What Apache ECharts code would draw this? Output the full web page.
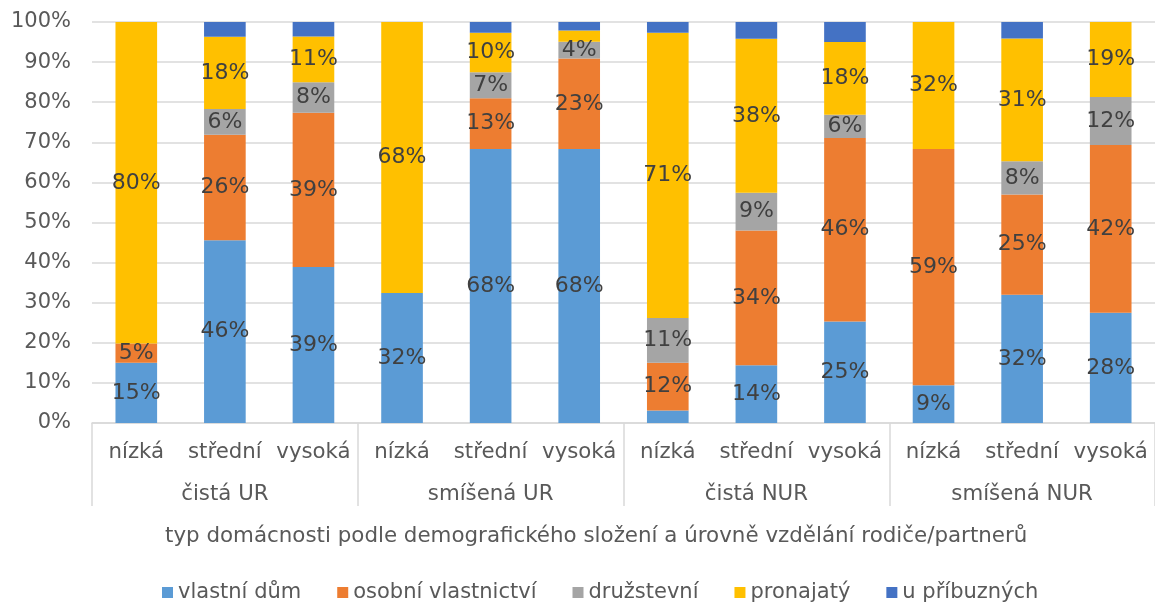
<!DOCTYPE html>
<html>
<head>
<meta charset="utf-8">
<script src="https://cdn.jsdelivr.net/npm/echarts@6/dist/echarts.min.js"></script>
<style>
  html, body { margin: 0; padding: 0; background: #fff; }
  #chart { width: 1155px; height: 602px; }
</style>
</head>
<body>
<div id="chart"></div>
<script>
// data (share in %)
var levels = ['nízká', 'střední', 'vysoká', 'nízká', 'střední', 'vysoká', 'nízká', 'střední', 'vysoká', 'nízká', 'střední', 'vysoká'];
var groups = ['čistá UR', 'smíšená UR', 'čistá NUR', 'smíšená NUR'];
var seriesNames = ['vlastní dům', 'osobní vlastnictví', 'družstevní', 'pronajatý', 'u příbuzných'];
var vlastniDum = [15.0, 45.6, 38.9, 32.4, 68.3, 68.3, 3.1, 14.4, 25.3, 9.4, 32.0, 27.5];
var osobniVl = [4.8, 26.3, 38.5, 0, 12.7, 22.6, 11.9, 33.6, 45.8, 58.9, 25.0, 41.8];
var druzstevni = [0, 6.4, 7.6, 0, 6.5, 4.2, 11.2, 9.4, 5.8, 0, 8.3, 12.0];
var pronajaty = [80.2, 18.0, 11.4, 67.6, 9.8, 2.8, 71.1, 38.4, 18.1, 31.7, 30.6, 18.7];
var uPribuznych = [0, 3.7, 3.6, 0, 2.7, 2.1, 2.7, 4.2, 5.0, 0, 4.1, 0];
var yTicks = [0, 10, 20, 30, 40, 50, 60, 70, 80, 90, 100];

var colors = ['#5B9BD5', '#ED7D31', '#A5A5A5', '#FFC000', '#4472C4'];
var allData = [vlastniDum, osobniVl, druzstevni, pronajaty, uPribuznych];
var font = 'DejaVu Sans';

var chart = echarts.init(document.getElementById('chart'));

var series = allData.map(function (d, i) {
  return {
    name: seriesNames[i],
    type: 'bar',
    stack: 'total',
    barWidth: '47%',
    data: d,
    itemStyle: { color: colors[i] },
    label: {
      show: i < 4,
      position: 'inside',
      color: '#404040',
      fontFamily: font,
      fontSize: 22,
      formatter: function (p) {
        return p.value >= 3.5 ? Math.round(p.value) + '%' : '';
      }
    }
  };
});

var option = {
  animation: false,
  textStyle: { fontFamily: font },
  grid: { left: 92, right: -11, top: 22, bottom: 179 },
  title: {
    text: 'typ domácnosti podle demografického složení a úrovně vzdělání rodiče/partnerů',
    left: 160,
    top: 521,
    textStyle: { fontFamily: font, fontSize: 21.4, fontWeight: 'normal', color: '#595959' }
  },
  legend: {
    left: 157,
    top: 577,
    icon: 'rect',
    itemWidth: 11,
    itemHeight: 11,
    itemGap: 36,
    textStyle: { fontFamily: font, fontSize: 21, color: '#595959' },
    data: seriesNames
  },
  xAxis: [
    {
      type: 'category',
      data: levels,
      axisLine: { lineStyle: { color: '#d9d9d9', width: 1.5 } },
      axisTick: { show: false },
      axisLabel: { color: '#595959', fontSize: 21.3, fontFamily: font, margin: 19, interval: 0 }
    },
    {
      type: 'category',
      data: groups,
      position: 'bottom',
      axisLine: { show: false },
      axisTick: { show: true, length: 83, lineStyle: { color: '#d9d9d9', width: 1.5 } },
      axisLabel: { color: '#595959', fontSize: 21.3, fontFamily: font, margin: 61, interval: 0 }
    }
  ],
  yAxis: {
    type: 'value',
    min: 0,
    max: 100,
    interval: 10,
    axisLine: { show: false },
    axisTick: { show: false },
    splitLine: { lineStyle: { color: '#d9d9d9', width: 1.5 } },
    axisLabel: {
      color: '#595959',
      fontSize: 21,
      fontFamily: font,
      margin: 21,
      formatter: function (v) { return yTicks.indexOf(v) >= 0 ? v + '%' : ''; }
    }
  },
  series: series
};

chart.setOption(option);
</script>
</body>
</html>
